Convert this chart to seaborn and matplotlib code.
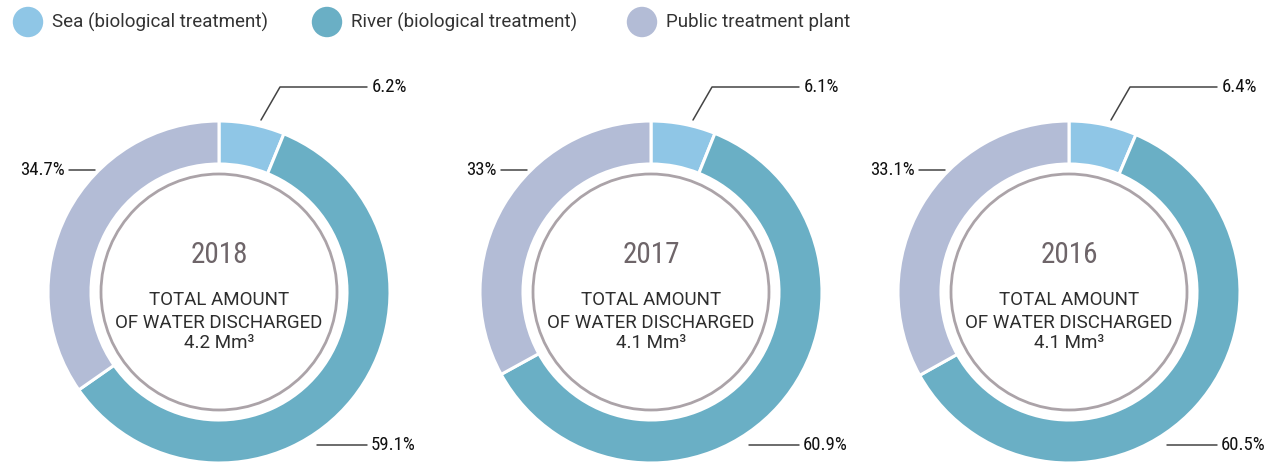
import matplotlib
matplotlib.use("Agg")
import matplotlib.pyplot as plt
from matplotlib.patches import Circle
import seaborn as sns

# data
years = ["2018", "2017", "2016"]
totals = ["4.2", "4.1", "4.1"]
categories = ["Sea (biological treatment)", "River (biological treatment)", "Public treatment plant"]
sea = [6.2, 6.1, 6.4]
river = [59.1, 60.9, 60.5]
public = [34.7, 33.0, 33.1]
pct_labels = [["6.2%", "59.1%", "34.7%"], ["6.1%", "60.9%", "33%"], ["6.4%", "60.5%", "33.1%"]]

colors = sns.color_palette(["#8fc6e6", "#6aafc5", "#b3bcd6"])

W, H = 1265, 462
centers_x = [219, 651, 1069]
center_y = 292
R = 171
RING = 43

sns.set_theme(style="white")
plt.rcParams["font.family"] = ["Roboto", "DejaVu Sans"]
COND = ["Roboto Condensed", "DejaVu Sans Condensed", "Liberation Sans Narrow", "DejaVu Sans"]

fig = plt.figure(figsize=(W / 100, H / 100), dpi=100)
ax = fig.add_axes([0, 0, 1, 1])


def py(y):
    # pixel y (from top) -> data y (from bottom)
    return H - y


for i, cx in enumerate(centers_x):
    cy = py(center_y)
    vals = [sea[i], river[i], public[i]]
    ax.pie(vals, colors=colors, startangle=90, counterclock=False, radius=R,
           center=(cx, cy), wedgeprops=dict(width=RING, edgecolor="white", linewidth=2.2))
    ax.add_patch(Circle((cx, cy), R - RING - 10, fill=False, edgecolor="#aba3a8", linewidth=2))

    ax.text(cx, cy + 37, years[i], ha="center", va="center", fontsize=21,
            color="#6e6569", family=COND, stretch="condensed")
    inner = dict(ha="center", va="center", fontsize=13.5, color="#2e2e2e")
    ax.text(cx, cy - 8, "TOTAL AMOUNT", **inner)
    ax.text(cx, cy - 31, "OF WATER DISCHARGED", **inner)
    ax.text(cx, cy - 51, f"{totals[i]} Mm³", **inner)

    lab_sea, lab_river, lab_public = pct_labels[i]
    lkw = dict(color="#444444", linewidth=1.1)
    tkw = dict(fontsize=13.5, color="#111111", family=COND, stretch="condensed", va="center")
    # sea: elbow leader to the upper right
    ax.plot([cx + 42, cx + 61, cx + 148], [cy + 172, cy + 205, cy + 205], **lkw)
    ax.text(cx + 153, cy + 205, lab_sea, ha="left", **tkw)
    # public: short horizontal leader on the left
    ax.plot([cx - 150, cx - 124], [cy + 122, cy + 122], **lkw)
    ax.text(cx - 154, cy + 122, lab_public, ha="right", **tkw)
    # river: horizontal leader at the bottom right
    ax.plot([cx + 98, cx + 148], [cy - 153, cy - 153], **lkw)
    ax.text(cx + 152, cy - 153, lab_river, ha="left", **tkw)

# legend row
leg_x = [28, 327, 642]
for x, lab, c in zip(leg_x, categories, colors):
    ax.scatter([x], [py(22)], s=480, color=c, edgecolor="none")
    ax.text(x + 24, py(22), lab, ha="left", va="center", fontsize=13.5, color="#333333")

ax.set_xlim(0, W)
ax.set_ylim(0, H)
ax.set_aspect("equal")
ax.axis("off")

fig.savefig("out.png", dpi=100)
